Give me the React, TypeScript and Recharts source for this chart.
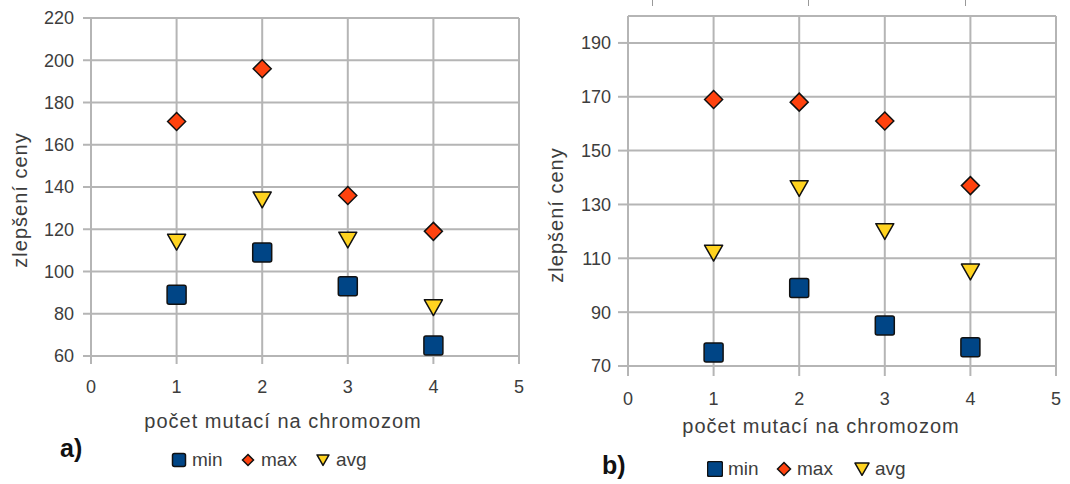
import { ScatterChart, Scatter, XAxis, YAxis, CartesianGrid, ReferenceLine } from 'recharts';

const MUTATIONS = [1, 2, 3, 4];
const X_TICKS = [0, 1, 2, 3, 4, 5];

// panel a)
const A_MIN = [89, 109, 93, 65];
const A_MAX = [171, 196, 136, 119];
const A_AVG = [114, 134, 115, 83];
const A_Y_TICKS = [60, 80, 100, 120, 140, 160, 180, 200, 220];

// panel b)
const B_MIN = [75, 99, 85, 77];
const B_MAX = [169, 168, 161, 137];
const B_AVG = [112, 136, 120, 105];
const B_Y_TICKS = [70, 90, 110, 130, 150, 170, 190];

const X_TITLE = 'počet mutací na chromozom';
const Y_TITLE = 'zlepšení ceny';

const BLUE = '#004586';
const ORANGE = '#ff420e';
const YELLOW = '#ffd320';
const GRID = '#b5b5b5';
const TEXT = '#3d3d3d';
const FONT = '"Liberation Sans", Arial, sans-serif';

const toPoints = (vals: number[]) => MUTATIONS.map((x, i) => ({ x, y: vals[i] }));

const Square = ({ cx, cy, s = 9.5 }: any) => (
  <rect x={cx - s} y={cy - s} width={s * 2} height={s * 2} rx={2} fill={BLUE} stroke="#111" strokeWidth={1.5} />
);
const Diamond = ({ cx, cy, s = 9 }: any) => (
  <polygon
    points={`${cx},${cy - s} ${cx + s},${cy} ${cx},${cy + s} ${cx - s},${cy}`}
    fill={ORANGE} stroke="#111" strokeWidth={1.5}
  />
);
const TriDown = ({ cx, cy, s = 9 }: any) => (
  <polygon
    points={`${cx - s},${cy - s * 0.85} ${cx + s},${cy - s * 0.85} ${cx},${cy + s * 0.9}`}
    fill={YELLOW} stroke="#111" strokeWidth={1.5} strokeLinejoin="round"
  />
);

interface PanelProps {
  left: number;
  width: number;
  margin: { top: number; right: number; bottom: number; left: number };
  yAxisWidth: number;
  yDomain: [number, number];
  yTicks: number[];
  minVals: number[];
  maxVals: number[];
  avgVals: number[];
  tickSize: number;
  yTickMargin: number;
  xTickMargin: number;
  yTitle: { x: number; y: number };
  xTitle: { x: number; y: number };
  tag: string;
  tagPos: { x: number; y: number };
  legend: { y: number; sq: number; items: number[] };
  topFrame?: number;
}

const Panel = (p: PanelProps) => {
  const tick = { fill: TEXT, fontSize: 18, fontFamily: FONT };
  const lineStyle = { stroke: GRID, strokeWidth: 2 };
  const half = p.legend.sq / 2;
  const legendIcons = [
    <Square cx={8} cy={8} s={half} />,
    <Diamond cx={8} cy={8} s={half - 1} />,
    <TriDown cx={8} cy={8} s={half - 0.5} />,
  ];
  const names = ['min', 'max', 'avg'];
  return (
    <div style={{ position: 'absolute', left: p.left, top: 0, width: p.width, height: 484 }}>
      <ScatterChart width={p.width} height={484} margin={p.margin}>
        <CartesianGrid stroke={GRID} strokeWidth={2} />
        <XAxis
          type="number"
          dataKey="x"
          domain={[0, 5]}
          ticks={X_TICKS}
          interval={0}
          height={40}
          tick={tick}
          tickSize={p.tickSize}
          tickMargin={p.xTickMargin}
          tickLine={lineStyle}
          axisLine={lineStyle}
          label={() => (
            <text x={p.xTitle.x} y={p.xTitle.y} textAnchor="middle" fill={TEXT} fontSize={20} letterSpacing={1} fontFamily={FONT}>
              {X_TITLE}
            </text>
          )}
        />
        <YAxis
          type="number"
          dataKey="y"
          domain={p.yDomain}
          ticks={p.yTicks}
          interval={0}
          width={p.yAxisWidth}
          tick={tick}
          tickSize={p.tickSize}
          tickMargin={p.yTickMargin}
          tickLine={lineStyle}
          axisLine={lineStyle}
          label={() => (
            <text
              x={p.yTitle.x}
              y={p.yTitle.y}
              transform={`rotate(-90, ${p.yTitle.x}, ${p.yTitle.y})`}
              textAnchor="middle"
              fill={TEXT}
              fontSize={20}
              letterSpacing={1}
              fontFamily={FONT}
            >
              {Y_TITLE}
            </text>
          )}
        />
        {p.topFrame !== undefined && <ReferenceLine y={p.topFrame} stroke={GRID} strokeWidth={2} />}
        <Scatter name="min" data={toPoints(p.minVals)} shape={(s: any) => <Square cx={s.cx} cy={s.cy} />} isAnimationActive={false} />
        <Scatter name="max" data={toPoints(p.maxVals)} shape={(s: any) => <Diamond cx={s.cx} cy={s.cy} />} isAnimationActive={false} />
        <Scatter name="avg" data={toPoints(p.avgVals)} shape={(s: any) => <TriDown cx={s.cx} cy={s.cy} />} isAnimationActive={false} />
      </ScatterChart>
      <div
        style={{
          position: 'absolute', left: p.tagPos.x, top: p.tagPos.y,
          fontFamily: FONT, fontSize: 25, fontWeight: 'bold', color: '#111', lineHeight: '25px',
        }}
      >
        {p.tag}
      </div>
      {p.legend.items.map((lx, i) => (
        <div
          key={names[i]}
          style={{
            position: 'absolute', left: lx, top: p.legend.y - 10, height: 20,
            display: 'flex', alignItems: 'center', gap: 5,
            fontFamily: FONT, fontSize: 19, color: TEXT,
          }}
        >
          <svg width={16} height={16}>{legendIcons[i]}</svg>
          <span>{names[i]}</span>
        </div>
      ))}
    </div>
  );
};

export default function App() {
  return (
    <div style={{ position: 'absolute', left: 0, top: 0, width: 1070, height: 484, background: '#fff', overflow: 'hidden' }}>
      <Panel
        left={0}
        width={540}
        margin={{ top: 18, right: 21, bottom: 88, left: 0 }}
        yAxisWidth={91}
        yDomain={[60, 220]}
        yTicks={A_Y_TICKS}
        minVals={A_MIN}
        maxVals={A_MAX}
        avgVals={A_AVG}
        tickSize={8}
        yTickMargin={9}
        xTickMargin={16}
        yTitle={{ x: 27, y: 200 }}
        xTitle={{ x: 283, y: 428 }}
        tag="a)"
        tagPos={{ x: 60, y: 436 }}
        legend={{ y: 460, sq: 13, items: [171, 240, 315] }}
      />
      <Panel
        left={540}
        width={530}
        margin={{ top: 16, right: 14, bottom: 78, left: 0 }}
        yAxisWidth={88}
        yDomain={[70, 200]}
        yTicks={B_Y_TICKS}
        minVals={B_MIN}
        maxVals={B_MAX}
        avgVals={B_AVG}
        tickSize={10}
        yTickMargin={7}
        xTickMargin={16}
        yTitle={{ x: 23, y: 215 }}
        xTitle={{ x: 281, y: 433 }}
        tag="b)"
        tagPos={{ x: 62, y: 453 }}
        legend={{ y: 469, sq: 15, items: [167, 236, 314] }}
        topFrame={200}
      />
      {[652, 808, 965].map((x) => (
        <div key={x} style={{ position: 'absolute', left: x, top: 0, width: 1, height: 6, background: '#999' }} />
      ))}
    </div>
  );
}
